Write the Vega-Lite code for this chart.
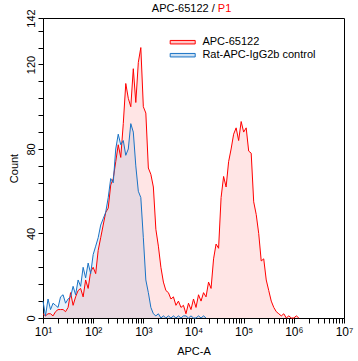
{
  "$schema": "https://vega.github.io/schema/vega-lite/v6.json",
  "width": 301,
  "height": 300,
  "autosize": {"type": "none"},
  "padding": {"left": 43, "top": 18, "right": 14, "bottom": 43},
  "background": "white",
  "config": {
    "view": {"stroke": "black", "strokeWidth": 1},
    "font": "Liberation Sans"
  },
  "data": {
    "values": [
      {"sample": "APC-65122", "apc": 10, "count": 2},
      {"sample": "APC-65122", "apc": 11.22, "count": 1},
      {"sample": "APC-65122", "apc": 12.59, "count": 2},
      {"sample": "APC-65122", "apc": 14.13, "count": 2},
      {"sample": "APC-65122", "apc": 15.85, "count": 1},
      {"sample": "APC-65122", "apc": 17.78, "count": 3},
      {"sample": "APC-65122", "apc": 19.95, "count": 4},
      {"sample": "APC-65122", "apc": 22.39, "count": 4},
      {"sample": "APC-65122", "apc": 25.12, "count": 4},
      {"sample": "APC-65122", "apc": 28.18, "count": 3},
      {"sample": "APC-65122", "apc": 31.62, "count": 5},
      {"sample": "APC-65122", "apc": 35.48, "count": 12},
      {"sample": "APC-65122", "apc": 39.81, "count": 6},
      {"sample": "APC-65122", "apc": 44.67, "count": 10},
      {"sample": "APC-65122", "apc": 50.12, "count": 13},
      {"sample": "APC-65122", "apc": 56.23, "count": 14},
      {"sample": "APC-65122", "apc": 63.1, "count": 10},
      {"sample": "APC-65122", "apc": 70.79, "count": 18},
      {"sample": "APC-65122", "apc": 79.43, "count": 14},
      {"sample": "APC-65122", "apc": 89.13, "count": 22},
      {"sample": "APC-65122", "apc": 100, "count": 24},
      {"sample": "APC-65122", "apc": 112.2, "count": 21},
      {"sample": "APC-65122", "apc": 125.9, "count": 32},
      {"sample": "APC-65122", "apc": 141.3, "count": 38},
      {"sample": "APC-65122", "apc": 158.5, "count": 44},
      {"sample": "APC-65122", "apc": 177.8, "count": 50},
      {"sample": "APC-65122", "apc": 199.5, "count": 52},
      {"sample": "APC-65122", "apc": 223.9, "count": 63},
      {"sample": "APC-65122", "apc": 251.2, "count": 66},
      {"sample": "APC-65122", "apc": 281.8, "count": 74},
      {"sample": "APC-65122", "apc": 316.2, "count": 82},
      {"sample": "APC-65122", "apc": 354.8, "count": 76},
      {"sample": "APC-65122", "apc": 398.1, "count": 92},
      {"sample": "APC-65122", "apc": 446.7, "count": 111},
      {"sample": "APC-65122", "apc": 501.2, "count": 104},
      {"sample": "APC-65122", "apc": 562.3, "count": 100},
      {"sample": "APC-65122", "apc": 631, "count": 118},
      {"sample": "APC-65122", "apc": 707.9, "count": 102},
      {"sample": "APC-65122", "apc": 794.3, "count": 121},
      {"sample": "APC-65122", "apc": 891.3, "count": 128},
      {"sample": "APC-65122", "apc": 1000, "count": 100},
      {"sample": "APC-65122", "apc": 1122, "count": 97},
      {"sample": "APC-65122", "apc": 1259, "count": 71},
      {"sample": "APC-65122", "apc": 1413, "count": 68},
      {"sample": "APC-65122", "apc": 1585, "count": 62},
      {"sample": "APC-65122", "apc": 1778, "count": 42},
      {"sample": "APC-65122", "apc": 1995, "count": 34},
      {"sample": "APC-65122", "apc": 2239, "count": 24},
      {"sample": "APC-65122", "apc": 2512, "count": 17},
      {"sample": "APC-65122", "apc": 2818, "count": 13},
      {"sample": "APC-65122", "apc": 3162, "count": 12},
      {"sample": "APC-65122", "apc": 3548, "count": 9},
      {"sample": "APC-65122", "apc": 3981, "count": 10},
      {"sample": "APC-65122", "apc": 4467, "count": 6},
      {"sample": "APC-65122", "apc": 5012, "count": 8},
      {"sample": "APC-65122", "apc": 5623, "count": 5},
      {"sample": "APC-65122", "apc": 6310, "count": 6},
      {"sample": "APC-65122", "apc": 7079, "count": 2},
      {"sample": "APC-65122", "apc": 7943, "count": 7},
      {"sample": "APC-65122", "apc": 8913, "count": 4},
      {"sample": "APC-65122", "apc": 10000, "count": 9},
      {"sample": "APC-65122", "apc": 11220, "count": 5},
      {"sample": "APC-65122", "apc": 12590, "count": 11},
      {"sample": "APC-65122", "apc": 14130, "count": 8},
      {"sample": "APC-65122", "apc": 15850, "count": 12},
      {"sample": "APC-65122", "apc": 17780, "count": 10},
      {"sample": "APC-65122", "apc": 19950, "count": 17},
      {"sample": "APC-65122", "apc": 22390, "count": 14},
      {"sample": "APC-65122", "apc": 25120, "count": 28},
      {"sample": "APC-65122", "apc": 28180, "count": 35},
      {"sample": "APC-65122", "apc": 31620, "count": 33},
      {"sample": "APC-65122", "apc": 35480, "count": 57},
      {"sample": "APC-65122", "apc": 39810, "count": 67},
      {"sample": "APC-65122", "apc": 44670, "count": 62},
      {"sample": "APC-65122", "apc": 50120, "count": 74},
      {"sample": "APC-65122", "apc": 56230, "count": 80},
      {"sample": "APC-65122", "apc": 63100, "count": 87},
      {"sample": "APC-65122", "apc": 70790, "count": 90},
      {"sample": "APC-65122", "apc": 79430, "count": 84},
      {"sample": "APC-65122", "apc": 89130, "count": 93},
      {"sample": "APC-65122", "apc": 100000, "count": 88},
      {"sample": "APC-65122", "apc": 112200, "count": 90},
      {"sample": "APC-65122", "apc": 125900, "count": 79},
      {"sample": "APC-65122", "apc": 141300, "count": 78},
      {"sample": "APC-65122", "apc": 158500, "count": 55},
      {"sample": "APC-65122", "apc": 177800, "count": 49},
      {"sample": "APC-65122", "apc": 199500, "count": 40},
      {"sample": "APC-65122", "apc": 223900, "count": 27},
      {"sample": "APC-65122", "apc": 251200, "count": 28},
      {"sample": "APC-65122", "apc": 281800, "count": 18},
      {"sample": "APC-65122", "apc": 316200, "count": 13},
      {"sample": "APC-65122", "apc": 354800, "count": 8},
      {"sample": "APC-65122", "apc": 398100, "count": 5},
      {"sample": "APC-65122", "apc": 446700, "count": 3},
      {"sample": "APC-65122", "apc": 501200, "count": 2},
      {"sample": "APC-65122", "apc": 562300, "count": 1},
      {"sample": "APC-65122", "apc": 631000, "count": 2},
      {"sample": "APC-65122", "apc": 707900, "count": 0},
      {"sample": "APC-65122", "apc": 794300, "count": 1},
      {"sample": "APC-65122", "apc": 891300, "count": 0},
      {"sample": "APC-65122", "apc": 1000000, "count": 0},
      {"sample": "APC-65122", "apc": 1122000, "count": 1},
      {"sample": "APC-65122", "apc": 1259000, "count": 0},
      {"sample": "Rat-APC-IgG2b control", "apc": 10, "count": 8},
      {"sample": "Rat-APC-IgG2b control", "apc": 11.22, "count": 1},
      {"sample": "Rat-APC-IgG2b control", "apc": 12.59, "count": 9},
      {"sample": "Rat-APC-IgG2b control", "apc": 14.13, "count": 4},
      {"sample": "Rat-APC-IgG2b control", "apc": 15.85, "count": 7},
      {"sample": "Rat-APC-IgG2b control", "apc": 17.78, "count": 6},
      {"sample": "Rat-APC-IgG2b control", "apc": 19.95, "count": 5},
      {"sample": "Rat-APC-IgG2b control", "apc": 22.39, "count": 10},
      {"sample": "Rat-APC-IgG2b control", "apc": 25.12, "count": 11},
      {"sample": "Rat-APC-IgG2b control", "apc": 28.18, "count": 7},
      {"sample": "Rat-APC-IgG2b control", "apc": 31.62, "count": 9},
      {"sample": "Rat-APC-IgG2b control", "apc": 35.48, "count": 10},
      {"sample": "Rat-APC-IgG2b control", "apc": 39.81, "count": 15},
      {"sample": "Rat-APC-IgG2b control", "apc": 44.67, "count": 11},
      {"sample": "Rat-APC-IgG2b control", "apc": 50.12, "count": 18},
      {"sample": "Rat-APC-IgG2b control", "apc": 56.23, "count": 15},
      {"sample": "Rat-APC-IgG2b control", "apc": 63.1, "count": 24},
      {"sample": "Rat-APC-IgG2b control", "apc": 70.79, "count": 19},
      {"sample": "Rat-APC-IgG2b control", "apc": 79.43, "count": 26},
      {"sample": "Rat-APC-IgG2b control", "apc": 89.13, "count": 21},
      {"sample": "Rat-APC-IgG2b control", "apc": 100, "count": 30},
      {"sample": "Rat-APC-IgG2b control", "apc": 112.2, "count": 34},
      {"sample": "Rat-APC-IgG2b control", "apc": 125.9, "count": 38},
      {"sample": "Rat-APC-IgG2b control", "apc": 141.3, "count": 44},
      {"sample": "Rat-APC-IgG2b control", "apc": 158.5, "count": 47},
      {"sample": "Rat-APC-IgG2b control", "apc": 177.8, "count": 50},
      {"sample": "Rat-APC-IgG2b control", "apc": 199.5, "count": 57},
      {"sample": "Rat-APC-IgG2b control", "apc": 223.9, "count": 66},
      {"sample": "Rat-APC-IgG2b control", "apc": 251.2, "count": 64},
      {"sample": "Rat-APC-IgG2b control", "apc": 281.8, "count": 80},
      {"sample": "Rat-APC-IgG2b control", "apc": 316.2, "count": 87},
      {"sample": "Rat-APC-IgG2b control", "apc": 354.8, "count": 82},
      {"sample": "Rat-APC-IgG2b control", "apc": 398.1, "count": 84},
      {"sample": "Rat-APC-IgG2b control", "apc": 446.7, "count": 77},
      {"sample": "Rat-APC-IgG2b control", "apc": 501.2, "count": 80},
      {"sample": "Rat-APC-IgG2b control", "apc": 562.3, "count": 92},
      {"sample": "Rat-APC-IgG2b control", "apc": 631, "count": 88},
      {"sample": "Rat-APC-IgG2b control", "apc": 707.9, "count": 72},
      {"sample": "Rat-APC-IgG2b control", "apc": 794.3, "count": 60},
      {"sample": "Rat-APC-IgG2b control", "apc": 891.3, "count": 57},
      {"sample": "Rat-APC-IgG2b control", "apc": 1000, "count": 38},
      {"sample": "Rat-APC-IgG2b control", "apc": 1122, "count": 18},
      {"sample": "Rat-APC-IgG2b control", "apc": 1259, "count": 12},
      {"sample": "Rat-APC-IgG2b control", "apc": 1413, "count": 5},
      {"sample": "Rat-APC-IgG2b control", "apc": 1585, "count": 2},
      {"sample": "Rat-APC-IgG2b control", "apc": 1778, "count": 1},
      {"sample": "Rat-APC-IgG2b control", "apc": 1995, "count": 2},
      {"sample": "Rat-APC-IgG2b control", "apc": 2239, "count": 0},
      {"sample": "Rat-APC-IgG2b control", "apc": 2512, "count": 1},
      {"sample": "Rat-APC-IgG2b control", "apc": 2818, "count": 0},
      {"sample": "Rat-APC-IgG2b control", "apc": 3162, "count": 1},
      {"sample": "Rat-APC-IgG2b control", "apc": 3548, "count": 0},
      {"sample": "Rat-APC-IgG2b control", "apc": 3981, "count": 1},
      {"sample": "Rat-APC-IgG2b control", "apc": 4467, "count": 0},
      {"sample": "Rat-APC-IgG2b control", "apc": 5012, "count": 1},
      {"sample": "Rat-APC-IgG2b control", "apc": 5623, "count": 0},
      {"sample": "Rat-APC-IgG2b control", "apc": 6310, "count": 1},
      {"sample": "Rat-APC-IgG2b control", "apc": 7079, "count": 1},
      {"sample": "Rat-APC-IgG2b control", "apc": 7943, "count": 0},
      {"sample": "Rat-APC-IgG2b control", "apc": 8913, "count": 1},
      {"sample": "Rat-APC-IgG2b control", "apc": 10000, "count": 0},
      {"sample": "Rat-APC-IgG2b control", "apc": 11220, "count": 0},
      {"sample": "Rat-APC-IgG2b control", "apc": 12590, "count": 1},
      {"sample": "Rat-APC-IgG2b control", "apc": 14130, "count": 0},
      {"sample": "Rat-APC-IgG2b control", "apc": 15850, "count": 1},
      {"sample": "Rat-APC-IgG2b control", "apc": 17780, "count": 0}
    ]
  },
  "encoding": {
    "color": {
      "field": "sample",
      "type": "nominal",
      "scale": {"domain": ["APC-65122", "Rat-APC-IgG2b control"], "range": ["#ff0000", "#1a73c5"]},
      "legend": {
        "title": null,
        "orient": "none",
        "legendX": 131.7,
        "legendY": 16.2,
        "padding": 0,
        "rowPadding": 0,
        "symbolType": "M-1.667,-0.233H1.667V0.233H-1.667Z",
        "symbolSize": 225,
        "symbolStrokeWidth": 1,
        "labelOffset": 11.7,
        "labelFont": "Liberation Sans",
        "labelFontSize": 11,
        "labelColor": "black",
        "encode": {
          "symbols": {
            "update": {
              "fill": {"scale": "color", "field": "value"},
              "stroke": {"scale": "color", "field": "value"},
              "fillOpacity": {"value": 0.22},
              "strokeOpacity": {"value": 1},
              "strokeWidth": {"value": 1},
              "opacity": {"value": 1}
            }
          }
        }
      }
    }
  },
  "layer": [
    {
      "mark": {"type": "area", "fillOpacity": 0.1, "interpolate": "linear"},
      "encoding": {
        "x": {
          "field": "apc",
          "type": "quantitative",
          "scale": {"type": "log", "domain": [10, 10000000], "nice": false},
          "axis": {
            "orient": "bottom",
            "title": "APC-A",
            "tickCount": 60,
            "labelExpr": "abs(log(datum.value)/LN10 - round(log(datum.value)/LN10)) < 0.001 ? '10' + ['\u2070','\u00b9','\u00b2','\u00b3','\u2074','\u2075','\u2076','\u2077'][round(log(datum.value)/LN10)] : ''",
            "labelOverlap": false,
            "labelFlush": false,
            "grid": false,
            "domainColor": "black",
            "tickColor": "black",
            "labelColor": "black",
            "titleColor": "black",
            "labelFont": "Liberation Sans",
            "titleFont": "Liberation Sans",
            "labelFontSize": 12,
            "titleFontSize": 11,
            "titleFontWeight": "normal",
            "labelPadding": 3,
            "titlePadding": 8,
            "encode": {"ticks": {"update": {"y2": {"signal": "abs(log(datum.value)/LN10 - round(log(datum.value)/LN10)) < 0.001 ? 5 : 3"}}}}
          }
        },
        "y": {
          "field": "count",
          "type": "quantitative",
          "stack": null,
          "scale": {"domain": [0, 142], "nice": false},
          "axis": {
            "orient": "left",
            "title": "Count",
            "values": [0, 8, 16, 24, 32, 40, 48, 56, 64, 72, 80, 88, 96, 104, 112, 120, 128, 136, 142],
            "labelExpr": "(datum.value % 40 == 0 || datum.value == 142) ? datum.label : ''",
            "labelAngle": 270,
            "labelAlign": "center",
            "labelBaseline": "bottom",
            "labelOverlap": false,
            "labelFlush": false,
            "grid": false,
            "domainColor": "black",
            "tickColor": "black",
            "labelColor": "black",
            "titleColor": "black",
            "labelFont": "Liberation Sans",
            "titleFont": "Liberation Sans",
            "labelFontSize": 11,
            "titleFontSize": 11,
            "titleFontWeight": "normal",
            "labelPadding": 2,
            "titlePadding": 6,
            "encode": {"ticks": {"update": {"x2": {"signal": "(datum.value % 40 == 0 || datum.value == 142) ? -5 : -3"}}}}
          }
        }
      }
    },
    {
      "mark": {"type": "line", "strokeWidth": 1, "interpolate": "linear"},
      "encoding": {
        "x": {
          "field": "apc",
          "type": "quantitative",
          "scale": {"type": "log", "domain": [10, 10000000], "nice": false},
          "axis": {
            "orient": "top",
            "title": "APC-65122 /",
            "labels": false,
            "ticks": false,
            "domain": false,
            "grid": false,
            "titleX": 108.3,
            "titleY": -6.3,
            "titleAlign": "left",
            "titleBaseline": "alphabetic",
            "titleAngle": 0,
            "titleFont": "Liberation Sans",
            "titleFontSize": 11,
            "titleFontWeight": "normal",
            "titleColor": "black"
          }
        },
        "y": {
          "field": "count",
          "type": "quantitative",
          "stack": null,
          "scale": {"domain": [0, 142], "nice": false},
          "axis": {
            "orient": "right",
            "title": "P1",
            "labels": false,
            "ticks": false,
            "domain": false,
            "grid": false,
            "titleX": -126.7,
            "titleY": -6.3,
            "titleAlign": "left",
            "titleBaseline": "alphabetic",
            "titleAngle": 0,
            "titleFont": "Liberation Sans",
            "titleFontSize": 11,
            "titleFontWeight": "normal",
            "titleColor": "#ff0000"
          }
        }
      }
    }
  ],
  "resolve": {"axis": {"x": "independent", "y": "independent"}}
}
